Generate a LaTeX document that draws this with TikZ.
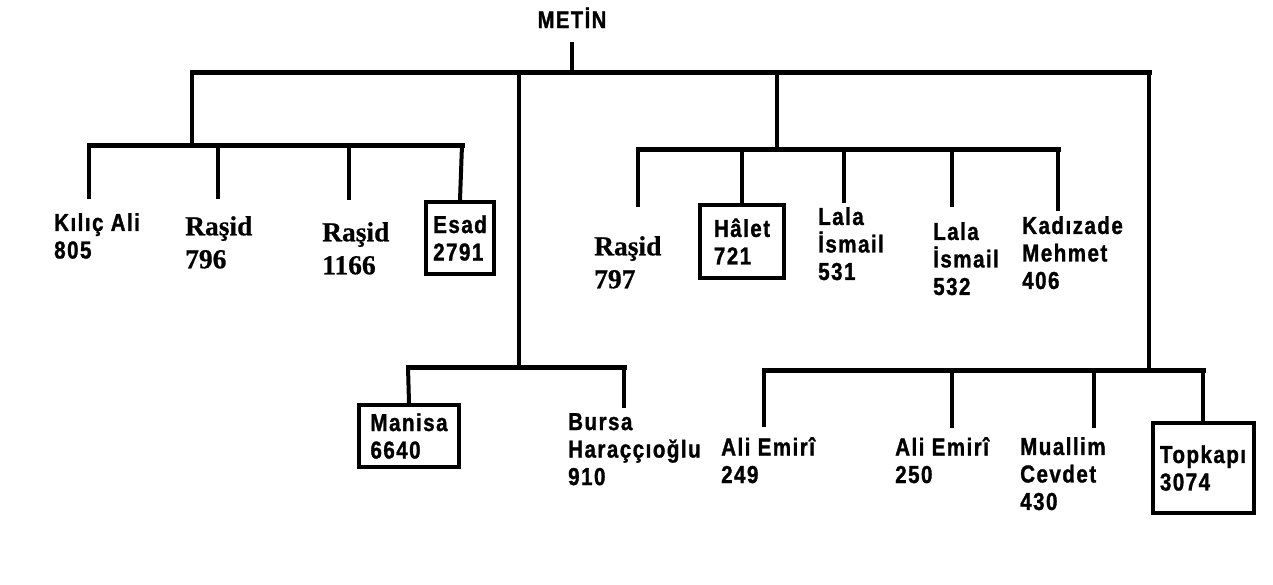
\documentclass[tikz,border=0pt]{standalone}
\usepackage{fontspec}
\setmainfont{Liberation Sans}
\newfontfamily\sanscond[FakeStretch=0.84,LetterSpace=6,FakeBold=1.2]{Liberation Sans}
\newfontfamily\serifbold[FakeBold=0.6]{Liberation Serif}
\begin{document}
\begin{tikzpicture}[x=1pt,y=-1pt,
  vline/.style={line width=4pt},
  hline/.style={line width=5pt, line cap=rect},
  leaf/.style={anchor=north west, inner sep=0pt, align=left,
    font=\fontsize{24.5}{27.5}\selectfont\sanscond\bfseries},
  sleaf/.style={anchor=north west, inner sep=0pt, align=left,
    font=\fontsize{27.5}{33}\selectfont\serifbold\bfseries},
  srcbox/.style={draw, line width=4pt, inner sep=0pt, align=left,
    font=\fontsize{24.5}{27.5}\selectfont\sanscond\bfseries}]
\fill[white] (0,0) rectangle (1273,584);
\useasboundingbox (0,0) rectangle (1273,584);

% root
\node[inner sep=0pt, anchor=base, font=\fontsize{24}{27}\selectfont\sanscond\bfseries] (metin) at (572,28) {METİN};

% leaves
\node[leaf] (kilic) at (54,213) {Kılıç Ali\\805};
\node[sleaf] (rasid1) at (185,216) {Raşid\\796};
\node[sleaf] (rasid2) at (322,222) {Raşid\\1166};
\node[srcbox, minimum width=68pt, minimum height=72pt] (esad) at (460,238) {Esad\\2791};
\node[sleaf] (rasid3) at (594,236) {Raşid\\797};
\node[srcbox, minimum width=84pt, minimum height=73pt] (halet) at (742,241.5) {Hâlet\\721};
\node[leaf] (lala1) at (818,207) {Lala\\İsmail\\531};
\node[leaf] (lala2) at (933,222) {Lala\\İsmail\\532};
\node[leaf] (kadizade) at (1022,216) {Kadızade\\Mehmet\\406};
\node[srcbox, minimum width=100pt, minimum height=62pt] (manisa) at (409,436) {Manisa\\6640};
\node[leaf] (bursa) at (568,413) {Bursa\\Haraççıoğlu\\910};
\node[leaf] (emiri1) at (721,437) {Ali Emirî\\249};
\node[leaf] (emiri2) at (895,437) {Ali Emirî\\250};
\node[leaf] (muallim) at (1020,437) {Muallim\\Cevdet\\430};
\node[srcbox, minimum width=101pt, minimum height=90pt] (topkapi) at (1203,468) {Topkapı\\3074};

% connector ends above leaves
\coordinate (kilic-t) at (89,199);
\coordinate (rasid1-t) at (218,199);
\coordinate (rasid2-t) at (349,200);
\coordinate (rasid3-t) at (638,207);
\coordinate (lala1-t) at (844,203);
\coordinate (lala2-t) at (952,207);
\coordinate (kadizade-t) at (1058,211);
\coordinate (bursa-t) at (624,408);
\coordinate (emiri1-t) at (764,427);
\coordinate (emiri2-t) at (952,428);
\coordinate (muallim-t) at (1094,428);

% root stem and top bar
\coordinate (root-s) at (572,42);
\coordinate (root-j) at (572,72);
\coordinate (top-l) at (192,72);
\coordinate (top-m) at (519,72);
\coordinate (top-c) at (777,72);
\coordinate (top-r) at (1149,72);
\draw[vline] (root-s) -- (root-j);
\draw[hline] (top-l) -- (top-r);

% left group
\coordinate (left-j) at (192,145);
\coordinate (left-a) at (89,145);
\coordinate (left-b) at (218,145);
\coordinate (left-c) at (349,145);
\coordinate (left-d) at (462,145);
\draw[vline] (top-l) -- (left-j);
\draw[hline] (left-a) -- (left-d);
\draw[vline] (left-a) -- (kilic-t);
\draw[vline] (left-b) -- (rasid1-t);
\draw[vline] (left-c) -- (rasid2-t);
\draw[vline] (left-d) -- (esad.north);

% middle group
\coordinate (mid-j) at (519,367);
\coordinate (mid-a) at (408,367);
\coordinate (mid-b) at (624,367);
\draw[vline] (top-m) -- (mid-j);
\draw[hline] (mid-a) -- (mid-b);
\draw[vline] (mid-a) -- (manisa.north);
\draw[vline] (mid-b) -- (bursa-t);

% centre-right group
\coordinate (cen-j) at (777,149);
\coordinate (cen-a) at (638,149);
\coordinate (cen-b) at (742,149);
\coordinate (cen-c) at (844,149);
\coordinate (cen-d) at (952,149);
\coordinate (cen-e) at (1058,149);
\draw[vline] (top-c) -- (cen-j);
\draw[hline] (cen-a) -- (cen-e);
\draw[vline] (cen-a) -- (rasid3-t);
\draw[vline] (cen-b) -- (halet.north);
\draw[vline] (cen-c) -- (lala1-t);
\draw[vline] (cen-d) -- (lala2-t);
\draw[vline] (cen-e) -- (kadizade-t);

% right group
\coordinate (rt-j) at (1149,370);
\coordinate (rt-a) at (764,370);
\coordinate (rt-b) at (952,370);
\coordinate (rt-c) at (1094,370);
\coordinate (rt-d) at (1203,370);
\draw[vline] (top-r) -- (rt-j);
\draw[hline] (rt-a) -- (rt-d);
\draw[vline] (rt-a) -- (emiri1-t);
\draw[vline] (rt-b) -- (emiri2-t);
\draw[vline] (rt-c) -- (muallim-t);
\draw[vline] (rt-d) -- (topkapi.north);
\end{tikzpicture}
\end{document}
